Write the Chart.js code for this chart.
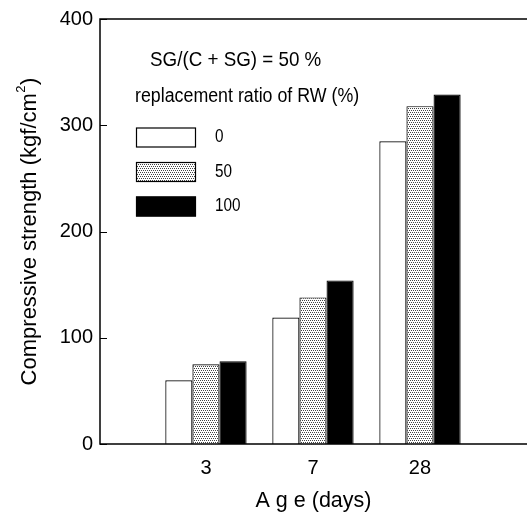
<!DOCTYPE html>
<html>
<head>
<meta charset="utf-8">
<script src="https://cdn.jsdelivr.net/npm/chart.js@4.4.1/dist/chart.umd.min.js"></script>
<style>
  html, body { margin: 0; padding: 0; background: #fff; overflow: hidden; }
  canvas { display: block; }
</style>
</head>
<body>
<canvas id="c" width="527" height="517"></canvas>
<script>
// compressive strength vs age, SG/(C+SG) = 50 %
const ages = ['3', '7', '28'];
const ratioLabels = ['0', '50', '100'];
const rw0 = [60, 119, 285];
const rw50 = [75, 138, 318];
const rw100 = [78, 154, 329];
const yTicks = [0, 100, 200, 300, 400];
const noteText = 'SG/(C + SG) = 50 %';
const legendTitle = 'replacement ratio of RW (%)';
const yTitle = ['Compressive strength (kgf/cm', '2', ')'];
const xTitle = 'A g e (days)';

const FONT = '"Liberation Sans", Arial, sans-serif';

function dotPattern(ctx) {
    const p = document.createElement('canvas');
    p.width = 4; p.height = 4;
    const g = p.getContext('2d');
    g.fillStyle = '#fff';
    g.fillRect(0, 0, 4, 4);
    g.fillStyle = '#444';
    [[0, 0], [2, 0], [1, 2], [3, 2]].forEach(d => g.fillRect(d[0], d[1], 1, 1));
    return ctx.createPattern(p, 'repeat');
}

const canvas = document.getElementById('c');
const ctx = canvas.getContext('2d');
const dots = dotPattern(ctx);

function pts(vals) {
    return vals.map((v, i) => ({ x: i + 1, y: v }));
}

// text squeezed sideways, the original uses a condensed face
function narrowText(c, txt, x, y, size, sx) {
    c.save();
    c.font = size + 'px ' + FONT;
    c.translate(x, y);
    c.scale(sx, 1);
    c.fillText(txt, 0, 0);
    c.restore();
}

const frame = {
    id: 'frame',
    afterDatasetsDraw(chart) {
        const c = chart.ctx;
        const a = chart.chartArea;
        const ys = chart.scales.y;
        c.save();
        c.strokeStyle = '#000';
        c.lineWidth = 1.5;
        c.beginPath();
        c.moveTo(chart.width, a.top);
        c.lineTo(a.left, a.top);
        c.lineTo(a.left, a.bottom);
        c.lineTo(chart.width, a.bottom);
        c.stroke();
        // inward ticks
        c.lineWidth = 1;
        ys.ticks.forEach(t => {
            const y = Math.round(ys.getPixelForValue(t.value)) + 0.5;
            c.beginPath();
            c.moveTo(a.left, y);
            c.lineTo(a.left + 7, y);
            c.stroke();
        });

        // annotation + legend
        c.fillStyle = '#000';
        c.textBaseline = 'middle';
        c.textAlign = 'left';
        narrowText(c, noteText, 150, 60, 21, 0.895);
        narrowText(c, legendTitle, 135, 96, 20, 0.89);
        chart.data.datasets.forEach((ds, i) => {
            const y = 127.5 + i * 34.5;
            c.fillStyle = ds.backgroundColor;
            c.fillRect(136, y, 60, 20);
            c.strokeStyle = '#000';
            c.lineWidth = 1.2;
            c.strokeRect(136.5, y + 0.5, 59, 19);
            c.fillStyle = '#000';
            narrowText(c, ds.label, 215, y + 10, 18, 0.85);
        });

        // y title with superscript
        c.translate(30, 232);
        c.rotate(-Math.PI / 2);
        c.font = '22px ' + FONT;
        const w1 = c.measureText(yTitle[0]).width;
        const w3 = c.measureText(yTitle[2]).width;
        c.font = '13px ' + FONT;
        const w2 = c.measureText(yTitle[1]).width;
        const x = -(w1 + w2 + w3) / 2;
        c.font = '22px ' + FONT;
        c.fillText(yTitle[0], x, 0);
        c.font = '13px ' + FONT;
        c.fillText(yTitle[1], x + w1 + 0.5, -9);
        c.font = '22px ' + FONT;
        c.fillText(yTitle[2], x + w1 + w2 + 1, 0);
        c.restore();
    }
};

new Chart(canvas, {
    type: 'bar',
    data: {
        datasets: [
            { label: ratioLabels[0], data: pts(rw0), backgroundColor: '#fff' },
            { label: ratioLabels[1], data: pts(rw50), backgroundColor: dots },
            { label: ratioLabels[2], data: pts(rw100), backgroundColor: '#000' }
        ].map(d => Object.assign(d, {
            borderColor: '#000',
            borderWidth: 1.2,
            categoryPercentage: 0.76,
            barPercentage: 1.0
        }))
    },
    options: {
        responsive: false,
        animation: false,
        events: [],
        layout: { padding: { top: 18, left: 0, right: 0, bottom: 0 } },
        plugins: { legend: { display: false }, tooltip: { enabled: false } },
        scales: {
            x: {
                type: 'linear',
                offset: false,
                min: 0.01,
                max: 4.0,
                afterBuildTicks: s => { s.ticks = ages.map((a, i) => ({ value: i + 1 })); },
                afterFit: s => { s.height = 73; },
                grid: { display: false, drawTicks: false, offset: false },
                border: { display: false },
                ticks: {
                    color: '#000',
                    padding: 12,
                    font: { family: FONT, size: 20 },
                    callback: v => ages[v - 1]
                },
                title: {
                    display: true,
                    text: xTitle,
                    color: '#000',
                    font: { family: FONT, size: 21.5 },
                    padding: { top: 0, bottom: 3 }
                }
            },
            y: {
                min: 0,
                max: 400,
                afterBuildTicks: s => { s.ticks = yTicks.map(v => ({ value: v })); },
                afterFit: s => { s.width = 100; },
                grid: { display: false, drawTicks: false },
                border: { display: false },
                ticks: {
                    color: '#000',
                    padding: 7,
                    font: { family: FONT, size: 20 }
                }
            }
        }
    },
    plugins: [frame]
});
</script>
</body>
</html>
